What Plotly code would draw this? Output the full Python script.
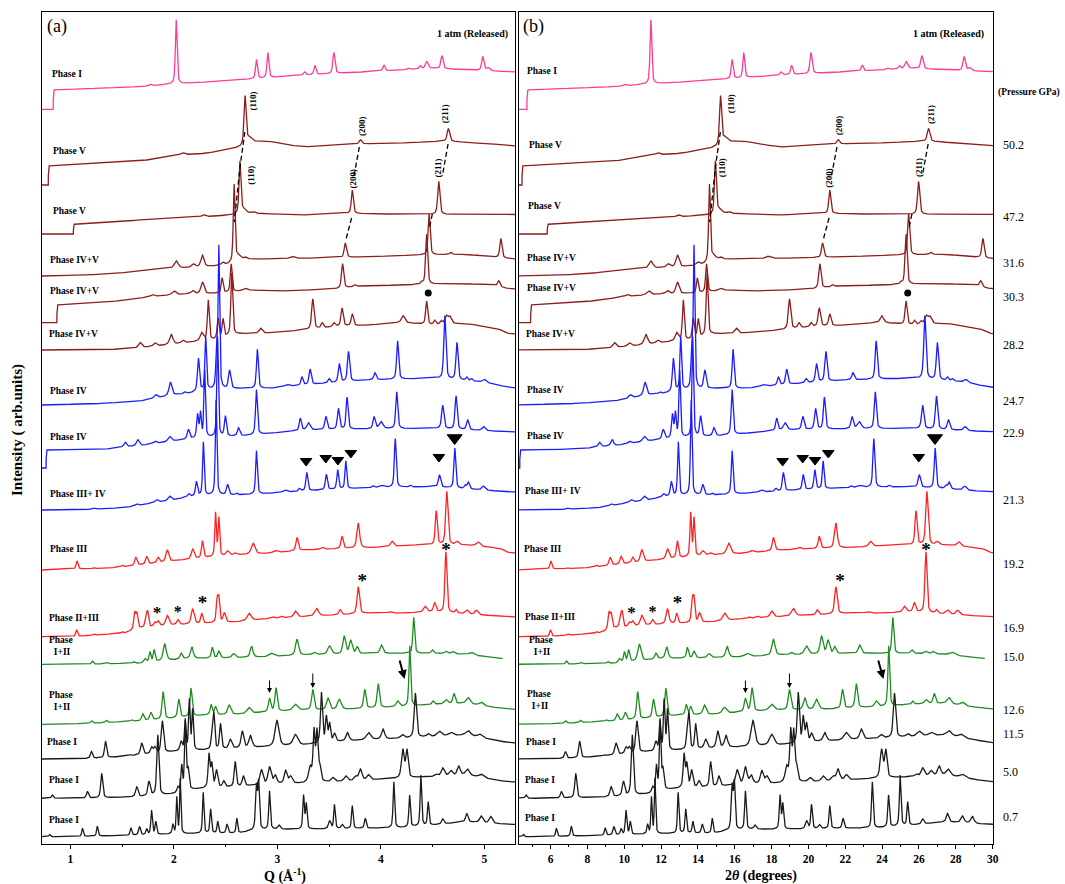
import numpy as np
import plotly.graph_objects as go

# X-ray wavelength (Angstrom) used to convert 2-theta into Q
WAVELENGTH = 0.6195

pressure_labels = ["", "50.2", "47.2", "31.6", "30.3", "28.2", "24.7", "22.9", "21.3",
                   "19.2", "16.9", "15.0", "12.6", "11.5", "5.0", "0.7"]
phase_labels = ["Phase I", "Phase V", "Phase V", "Phase IV+V", "Phase IV+V", "Phase IV+V",
                "Phase IV", "Phase IV", "Phase III+ IV", "Phase III", "Phase II+III",
                "Phase<br> I+II", "Phase<br> I+II", "Phase I", "Phase I", "Phase I"]
trace_colors = ["#ff3a96", "#8c1d1d", "#8c1d1d", "#8c1d1d", "#8c1d1d", "#8c1d1d",
                "#1c1cff", "#1c1cff", "#1c1cff", "#ff2222", "#ff2222",
                "#1f8c1f", "#1f8c1f", "#1a1a1a", "#1a1a1a", "#1a1a1a"]
trace_end = [30.35, 30.35, 30.35, 30.35, 30.35, 30.35, 30.35, 30.35, 30.35,
             30.35, 30.35, 29.58, 30.35, 30.35, 30.35, 30.35]

# ---- background (2theta deg, offset intensity) and peaks (2theta, height, fwhm) ----
base_00 = [(4.1, 734.7), (4.72, 734.7), (4.73, 754), (9.47, 757.3), (11.0, 759.7), (14.85, 764),
           (18.46, 769), (22.06, 772.3), (25.66, 775.7), (29.8, 772.3), (30.35, 772)]
peaks_00 = [(10.06, 1.5), (11.45, 64, 0.11), (15.86, 19, 0.12), (16.49, 25, 0.12), (18.52, 3),
            (19.09, 9), (20.14, 21, 0.14), (22.92, 6), (24.31, 1.5), (24.94, 3), (25.3, 7, 0.18),
            (26.16, 13, 0.15), (28.45, 14, 0.15), (28.75, 3, 0.2)]

base_01 = [(4.1, 659), (4.45, 659), (4.46, 678), (5.87, 679), (9.47, 683), (11.63, 689),
           (13.07, 690.7), (14.5, 695), (14.96, 697), (15.59, 702), (16.49, 703), (17.3, 700),
           (18.46, 697), (21.34, 700), (23.86, 701), (26.38, 703), (29.8, 699), (30.35, 698)]
peaks_01 = [(11.81, 2, 0.25), (15.23, 48, 0.13), (15.45, 5, 0.3), (21.61, 4.3, 0.15),
            (26.52, 12.7, 0.16)]

base_02 = [(4.1, 610), (5.82, 610), (5.83, 619.7), (9.47, 624), (13.07, 627.3), (14.5, 629),
           (15.5, 630.7), (18.46, 629), (21.0, 630.7), (23.86, 629.7), (29.8, 629.7), (30.35, 629.5)]
peaks_02 = [(12.94, 2, 0.25), (14.95, 52, 0.12), (15.15, 4, 0.3), (15.7, 1.5, 0.2),
            (21.16, 23.3, 0.13), (25.98, 33, 0.14)]

base_03 = [(4.1, 568), (7.67, 569.7), (10.37, 574.7), (13.07, 577.3), (14.15, 579), (15.23, 584.7),
           (18.46, 585.7), (22.06, 587.3), (24.76, 589), (27.46, 589.7), (29.8, 585.7), (30.35, 585)]
peaks_03 = [(11.45, 7.3, 0.25), (12.39, 3.3, 0.2), (12.89, 11.7, 0.2), (14.0, 3, 0.2),
            (14.63, 77, 0.11), (14.85, 5, 0.3), (15.23, 2, 0.2), (17.83, 2.3, 0.3),
            (20.77, 14.3, 0.14), (25.44, 41, 0.13), (26.65, 2.3), (29.47, 19.3, 0.14)]

base_04 = [(4.1, 521.3), (4.92, 521.3), (4.93, 539), (7.67, 541.7), (10.0, 547.3), (12.0, 550),
           (13.0, 550.3), (14.0, 551), (15.4, 554), (17.0, 553), (20.0, 554.7), (21.6, 558),
           (24.0, 559), (27.0, 560.7), (29.0, 559), (29.8, 555.7), (30.35, 555)]
peaks_04 = [(10.15, 2, 0.2), (11.32, 4, 0.25), (12.35, 3.3, 0.2), (12.89, 11.7, 0.2),
            (13.97, 15, 0.12), (14.47, 28, 0.12), (15.23, 2, 0.2), (20.62, 24.3, 0.14),
            (21.31, 2), (25.03, 2), (25.3, 50, 0.13), (29.35, 5.7, 0.15)]

base_05 = [(4.1, 494), (7.67, 494.3), (9.0, 495.7), (10.0, 497.3), (11.5, 500), (12.5, 502.3),
           (13.5, 504), (14.8, 510), (16.5, 511), (18.46, 514), (20.25, 517.3), (22.06, 519),
           (23.86, 521.7), (25.66, 519), (27.46, 520.7), (29.26, 515.7), (29.8, 510.7), (30.35, 510)]
peaks_05 = [(9.47, 5, 0.2), (10.28, 3.3, 0.2), (11.18, 10, 0.22), (11.81, 3, 0.2), (12.85, 8, 0.2),
            (13.21, 40, 0.12), (13.75, 20, 0.12), (14.02, 18, 0.12), (14.5, 62, 0.12),
            (16.09, 5, 0.2), (18.97, 30, 0.15), (19.49, 5, 0.15), (20.14, 4, 0.15),
            (20.59, 18.3, 0.15), (21.16, 11.7, 0.15), (23.99, 6.7, 0.2), (25.3, 23.3, 0.13),
            (25.75, 4.3, 0.15), (26.11, 3.3, 0.15), (26.4, 8, 0.2), (26.6, 7, 0.2)]

base_06 = [(4.1, 439), (7.67, 440.7), (9.47, 443), (11.27, 449), (12.17, 450.7), (13.07, 454),
           (15.23, 455.7), (16.67, 455.7), (18.46, 459), (22.06, 464), (25.66, 465.7), (28.5, 462),
           (29.8, 457), (30.35, 456)]
peaks_06 = [(10.33, 3.3, 0.2), (11.13, 13.3, 0.18), (11.94, 1.7), (12.67, 32.7, 0.13),
            (13.07, 52.7, 0.1), (13.66, 30, 0.1), (13.79, 142, 0.1), (14.38, 18.3, 0.15),
            (15.91, 39, 0.12), (17.53, 2, 0.3), (18.37, 8.3, 0.13), (18.82, 15.3, 0.14),
            (19.87, 4.3, 0.15), (20.44, 18.3, 0.14), (20.95, 30, 0.14), (22.42, 7, 0.15),
            (23.68, 38.3, 0.13), (26.32, 63.3, 0.14), (27.0, 37.3, 0.14), (27.55, 3.3),
            (27.82, 2.3), (28.54, 2.7, 0.2)]

base_07 = [(4.1, 376), (4.33, 376), (4.34, 394), (7.67, 395), (8.57, 397.3), (9.47, 398.3),
           (11.27, 403), (12.17, 405), (14.0, 407.3), (15.0, 408), (16.67, 410.7), (18.46, 414),
           (22.06, 415), (25.66, 415.7), (29.8, 412.3), (30.35, 412)]
peaks_07 = [(8.66, 4.3, 0.15), (9.35, 6, 0.18), (10.28, 2.3, 0.2), (11.09, 5, 0.2),
            (12.12, 9.3, 0.15), (12.62, 23, 0.12), (12.78, 24, 0.1), (13.01, 67, 0.1),
            (13.72, 100, 0.1), (14.15, 20, 0.13), (14.87, 8, 0.15), (15.86, 45, 0.12),
            (18.28, 12, 0.13), (18.73, 7, 0.2), (19.7, 13, 0.15), (20.39, 20.7, 0.14),
            (20.87, 32, 0.13), (22.37, 12, 0.15), (22.76, 7, 0.25), (23.63, 36.7, 0.13),
            (26.2, 23.3, 0.15), (26.95, 33.3, 0.14), (27.6, 10, 0.15), (28.5, 4, 0.2)]

base_08 = [(4.1, 334), (6.77, 334.7), (8.57, 336.3), (9.47, 339), (10.37, 341.7), (11.27, 344),
           (12.17, 347.3), (13.43, 349), (14.85, 349), (16.67, 350.7), (18.46, 353), (22.06, 356.3),
           (25.66, 357.3), (29.8, 352.3), (30.35, 352)]
peaks_08 = [(6.95, 1, 0.15), (9.29, 1.7, 0.15), (10.37, 2.7, 0.2), (11.09, 4.3, 0.2),
            (12.13, 3, 0.15), (12.56, 14.3, 0.13), (12.94, 53.3, 0.1), (13.64, 95, 0.1),
            (14.27, 10.3, 0.15), (14.78, 1.7), (15.86, 43.3, 0.11), (17.42, 2.3, 0.3),
            (18.23, 2.7), (18.64, 18.3, 0.13), (19.72, 15.3, 0.13), (20.35, 19.3, 0.12),
            (20.8, 27.7, 0.11), (22.33, 1.7), (22.78, 2, 0.3), (23.55, 48.7, 0.12), (24.4, 1.7),
            (26.02, 12.3, 0.15), (26.88, 40, 0.12), (27.46, 3.3), (27.64, 6.7, 0.15), (28.48, 4, 0.2)]

base_09 = [(4.1, 274), (5.87, 275), (7.67, 275.7), (9.47, 279), (11.27, 283), (13.07, 286.3),
           (14.85, 289), (16.67, 290.7), (18.46, 294), (22.06, 296.3), (24.76, 299), (27.46, 299),
           (29.44, 295.7), (29.8, 291.7), (30.35, 291)]
peaks_09 = [(6.02, 8, 0.12), (6.92, 1), (8.48, 1.5), (9.24, 8, 0.15), (9.83, 7.7, 0.15),
            (10.46, 5.3, 0.15), (10.96, 11.7, 0.18), (12.35, 10, 0.18), (12.89, 17, 0.13),
            (13.61, 43.3, 0.1), (13.79, 38, 0.1), (14.27, 4.7, 0.2), (14.69, 2, 0.2),
            (15.68, 11, 0.25), (16.9, 2.3, 0.3), (18.1, 13.3, 0.15), (19.5, 2, 0.2),
            (20.59, 12.3, 0.15), (21.49, 25, 0.18), (23.37, 5, 0.2), (25.84, 34, 0.13),
            (26.43, 53.3, 0.15), (27.0, 3.3, 0.2), (28.18, 4.3, 0.25)]

base_10 = [(4.1, 207.3), (5.87, 207.3), (7.67, 209.7), (8.57, 210.7), (9.47, 215.7), (11.27, 219),
           (13.07, 220.7), (14.85, 222.3), (16.67, 225.7), (18.46, 227.3), (20.26, 229),
           (22.06, 230.7), (23.86, 230.7), (25.66, 232.3), (29.8, 227.3), (30.35, 227)]
peaks_10 = [(6.0, 6.7, 0.12), (6.92, 1.5), (8.48, 1.7), (9.17, 16.7, 0.12), (9.29, 15, 0.12),
            (9.8, 13.3, 0.12), (9.89, 13, 0.1), (10.28, 4, 0.15), (10.46, 5, 0.15), (10.96, 10, 0.2),
            (11.54, 5, 0.15), (12.35, 15, 0.18), (12.85, 10, 0.13), (13.7, 23.3, 0.12),
            (13.79, 21, 0.1), (14.09, 9.3, 0.15), (15.46, 7.3, 0.25), (16.79, 1.3), (17.24, 1.7),
            (18.01, 6, 0.2), (19.18, 7.7, 0.25), (20.48, 5, 0.15), (21.49, 27, 0.16),
            (23.23, 1.5, 0.3), (25.21, 5.7, 0.2), (25.75, 9, 0.15), (26.38, 60.7, 0.13),
            (26.95, 3.3), (27.55, 4, 0.2), (28.09, 4.3, 0.2)]

base_11 = [(4.1, 179.7), (6.77, 179.7), (8.57, 180.7), (9.47, 180.7), (11.27, 184), (12.17, 185.7),
           (13.07, 185.7), (14.85, 186.3), (16.67, 187.3), (18.46, 189), (20.26, 189.7),
           (22.06, 190.7), (25.66, 190.7), (27.46, 189.7), (29.44, 185.7), (29.6, 185.5)]
peaks_11 = [(6.86, 3.3, 0.12), (7.67, 1.3), (9.11, 1.7), (9.74, 4, 0.15), (10.01, 10, 0.12),
            (10.24, 11.7, 0.12), (10.82, 16.7, 0.2), (11.72, 5.7, 0.15), (12.31, 11.3, 0.17),
            (13.43, 10.7, 0.13), (13.79, 6.7, 0.15), (14.6, 4, 0.2), (15.59, 11, 0.18),
            (16.67, 3.3, 0.3), (18.1, 16, 0.2), (19.06, 2.3, 0.2), (19.9, 8.3, 0.25),
            (20.71, 17.7, 0.18), (21.07, 13, 0.18), (21.43, 6.7, 0.15), (22.78, 8.3, 0.18),
            (24.58, 36, 0.12), (25.62, 3.3, 0.15), (26.38, 2.3, 0.2), (26.77, 2.3, 0.2),
            (27.82, 2.7, 0.3)]

base_12 = [(4.1, 119.7), (6.77, 120.7), (9.47, 123), (11.27, 125.7), (13.07, 129), (14.85, 129.7),
           (16.67, 132.3), (18.46, 134), (20.26, 134), (22.06, 135.7), (23.86, 137.3),
           (25.66, 139.7), (27.46, 140.7), (29.8, 135), (30.35, 134.5)]
peaks_12 = [(6.81, 2.7, 0.12), (7.62, 2.3, 0.12), (9.02, 1.5), (9.62, 6.7, 0.15), (10.06, 7.7, 0.15),
            (10.73, 27.3, 0.14), (11.59, 18.3, 0.14), (12.26, 28.3, 0.14), (13.37, 10, 0.13),
            (13.61, 8, 0.13), (14.36, 9.3, 0.2), (15.44, 6, 0.25), (16.58, 13, 0.15),
            (16.94, 23.3, 0.15), (18.01, 6, 0.3), (18.97, 20.3, 0.16), (19.81, 11.7, 0.2),
            (20.44, 10.3, 0.25), (21.85, 19, 0.15), (22.6, 24, 0.15), (23.68, 5.7, 0.2),
            (24.36, 60, 0.11), (25.66, 3.3), (26.38, 4.3, 0.2), (26.83, 10, 0.15),
            (27.64, 6, 0.25), (28.36, 3.3, 0.25)]

base_13 = [(4.1, 85), (5.87, 85), (7.67, 86.3), (9.47, 89), (11.27, 92.3), (13.07, 94),
           (14.85, 95.7), (16.67, 97.3), (18.46, 99), (20.26, 102.3), (22.06, 104), (23.86, 105.7),
           (25.66, 107.3), (27.46, 109), (29.8, 101.7), (30.35, 101)]
peaks_13 = [(6.81, 6.7, 0.13), (7.58, 16.7, 0.13), (8.93, 1), (9.56, 11.7, 0.16), (10.1, 6, 0.15),
            (10.28, 6, 0.15), (10.69, 31.7, 0.15), (11.72, 9, 0.15), (11.94, 29, 0.1),
            (12.17, 50, 0.1), (12.35, 40, 0.1), (13.43, 20, 0.12), (13.52, 31.7, 0.1),
            (13.88, 25, 0.12), (14.42, 9.3, 0.18), (15.08, 16.7, 0.17), (15.53, 11.7, 0.2),
            (16.99, 25.7, 0.25), (18.01, 10.7, 0.3), (19.45, 50, 0.13), (19.72, 25, 0.12),
            (19.9, 18, 0.12), (20.17, 8, 0.15), (20.89, 8.3, 0.2), (22.06, 7.3, 0.3),
            (22.87, 10, 0.2), (23.95, 3.3, 0.2), (24.67, 44.3, 0.15), (25.39, 3, 0.2),
            (26.02, 5, 0.3), (26.65, 3.3, 0.3), (27.64, 4.7, 0.3), (28.27, 3.3, 0.3)]

base_14 = [(4.1, 45.7), (5.87, 45.7), (7.67, 46.3), (9.47, 47.3), (11.27, 50), (12.17, 54),
           (13.07, 55.7), (14.85, 57.3), (16.67, 59.7), (18.46, 60.7), (20.26, 62.3), (22.06, 64),
           (23.86, 65.7), (25.66, 67.3), (27.46, 69), (29.8, 62.3), (30.35, 62)]
peaks_14 = [(4.67, 3.3, 0.12), (6.59, 6.7, 0.13), (7.37, 24.3, 0.13), (9.29, 10, 0.15),
            (9.96, 14.3, 0.15), (10.44, 60, 0.13), (11.54, 5, 0.12), (11.75, 25, 0.1),
            (11.95, 70, 0.1), (12.1, 20, 0.12), (13.25, 33, 0.12), (13.4, 23, 0.12),
            (13.66, 17, 0.15), (14.06, 6, 0.15), (14.69, 25, 0.13), (15.14, 10, 0.15),
            (16.13, 15, 0.2), (16.58, 17, 0.2), (16.9, 8, 0.2), (17.47, 12.7, 0.18),
            (17.74, 7, 0.2), (18.82, 15, 0.2), (19.04, 50, 0.13), (19.2, 48, 0.12),
            (19.35, 15, 0.15), (20.08, 4, 0.2), (20.8, 5, 0.2), (21.34, 4, 0.2), (21.61, 11, 0.2),
            (22.06, 5, 0.2), (23.97, 28, 0.18), (24.2, 27, 0.15), (25.84, 2, 0.2), (26.2, 8, 0.2),
            (26.65, 5, 0.2), (27.1, 9, 0.2), (27.6, 6, 0.25), (28.36, 3.3, 0.3)]

base_15 = [(4.1, 7.3), (5.87, 7.3), (9.47, 9), (11.27, 10), (13.07, 10.7), (14.85, 10.7),
           (15.5, 13), (16.67, 14.7), (18.46, 14.7), (22.06, 15.7), (23.86, 16.3), (25.66, 19),
           (27.46, 22.3), (29.8, 19.7), (30.35, 19.5)]
peaks_15 = [(4.53, 2.3, 0.1), (6.32, 8.3, 0.1), (7.13, 10, 0.1), (8.97, 7.3, 0.1), (9.44, 8.3, 0.12),
            (9.83, 5.7, 0.1), (10.1, 24, 0.1), (10.33, 12.7, 0.1), (11.27, 9.3, 0.1),
            (11.48, 36, 0.08), (11.67, 55, 0.08), (12.93, 40.7, 0.09), (13.34, 24, 0.1),
            (13.73, 11.7, 0.1), (14.24, 9, 0.12), (14.78, 15, 0.1), (15.86, 43.3, 0.12),
            (15.98, 45, 0.1), (16.58, 38.3, 0.1), (17.1, 4, 0.15), (18.46, 33.3, 0.1),
            (18.61, 25, 0.1), (19.9, 8, 0.15), (20.17, 24, 0.1), (20.6, 4, 0.15), (21.16, 22.7, 0.1),
            (21.88, 10, 0.12), (23.47, 46, 0.1), (24.35, 31.7, 0.1), (24.98, 50.7, 0.1),
            (25.39, 23.3, 0.1), (26.2, 5, 0.15), (27.55, 8.3, 0.15), (28.36, 6.7, 0.2),
            (28.9, 6.7, 0.2)]

bases = [base_00, base_01, base_02, base_03, base_04, base_05, base_06, base_07,
         base_08, base_09, base_10, base_11, base_12, base_13, base_14, base_15]
peak_lists = [peaks_00, peaks_01, peaks_02, peaks_03, peaks_04, peaks_05, peaks_06, peaks_07,
              peaks_08, peaks_09, peaks_10, peaks_11, peaks_12, peaks_13, peaks_14, peaks_15]

# marker annotations (2theta, intensity offset)
triangle_tt = [18.6, 19.69, 20.36, 21.08, 25.99, 26.87]
triangle_y = [383, 386, 384, 391, 387, 406]
triangle_size = [10, 10, 10, 10, 10, 13]
star_tt = [10.40, 11.54, 12.89, 21.71, 26.38]
star_y = [235.7, 235.7, 245, 266.3, 297.3]
star_size = [17, 16, 19, 19, 19]
dot_tt = [25.39]
dot_y = [551]
# hkl guide lines (2theta, y)
guide_lines = [
    [(15.22, 712), (14.96, 678), (14.64, 622)],
    [(21.55, 697), (21.25, 668)],
    [(21.12, 626), (20.8, 604)],
    [(26.5, 700), (26.18, 668)],
    [(25.62, 630), (25.47, 617)],
]
# arrows: (2theta tip, y tip, 2theta tail, y tail, width)
arrows = [(16.58, 151, 16.58, 165, 1.0), (18.97, 156, 18.97, 172, 1.0),
          (24.07, 165, 23.77, 185, 2.0)]

FONT = "Liberation Serif"
L, R, T, B = 42, 993, 12, 844
W_PX, H_PX = R - L, B - T
Y_MAX = H_PX


def to_q(tt):
    return 4 * np.pi * np.sin(np.radians(np.asarray(tt, dtype=float) / 2)) / WAVELENGTH


def profile(tt, base, peaks):
    bx = [b[0] for b in base]
    by = [b[1] for b in base]
    y = np.interp(tt, bx, by)
    for p in peaks:
        x0, h = p[0], p[1]
        w = p[2] if len(p) > 2 else 0.13
        d = (tt - x0) / w
        y = y + h * (0.55 / (1 + 4 * d * d) + 0.45 * np.exp(-4 * np.log(2) * d * d))
    return y


fig = go.Figure()

for i in range(len(bases)):
    tt = np.arange(4.1, trace_end[i], 0.005)
    yy = profile(tt, bases[i], peak_lists[i])
    line = dict(color=trace_colors[i], width=1.3)
    fig.add_trace(go.Scatter(x=np.round(to_q(tt), 4), y=np.round(yy, 2), mode="lines", line=line,
                             xaxis="x", yaxis="y", hoverinfo="skip", showlegend=False))
    fig.add_trace(go.Scatter(x=np.round(tt, 4), y=np.round(yy, 2), mode="lines", line=line,
                             xaxis="x2", yaxis="y2", hoverinfo="skip", showlegend=False))

for gl in guide_lines:
    gx = [p[0] for p in gl]
    gy = [p[1] for p in gl]
    for xa, ya, xv in (("x", "y", to_q(gx)), ("x2", "y2", gx)):
        fig.add_trace(go.Scatter(x=xv, y=gy, mode="lines", xaxis=xa, yaxis=ya,
                                 line=dict(color="black", width=1.3, dash="5px,3px"),
                                 hoverinfo="skip", showlegend=False))

for xa, ya, conv in (("x", "y", to_q), ("x2", "y2", lambda v: np.asarray(v, dtype=float))):
    fig.add_trace(go.Scatter(x=conv(triangle_tt), y=triangle_y, mode="markers", xaxis=xa, yaxis=ya,
                             marker=dict(symbol="triangle-down", size=triangle_size, color="#000000",
                                         opacity=1, line=dict(color="#000000", width=1)),
                             hoverinfo="skip", showlegend=False))
    fig.add_trace(go.Scatter(x=conv(dot_tt), y=dot_y, mode="markers", xaxis=xa, yaxis=ya,
                             marker=dict(symbol="circle", size=7, color="#000000"),
                             hoverinfo="skip", showlegend=False))
    fig.add_trace(go.Scatter(x=conv(star_tt), y=[v - 5 for v in star_y], mode="text",
                             text=["*"] * len(star_tt), xaxis=xa, yaxis=ya,
                             textfont=dict(family=FONT, size=star_size, color="black", weight="bold"),
                             hoverinfo="skip", showlegend=False))

annotations = []


def pa(px, py, text, size, bold=True, xanchor="left", angle=0, align="left"):
    annotations.append(dict(x=(px - L) / W_PX, y=(B - py) / H_PX, xref="paper", yref="paper",
                            text=text, showarrow=False, xanchor=xanchor, yanchor="middle",
                            textangle=angle, align=align,
                            font=dict(family=FONT, size=size, color="black",
                                      weight="bold" if bold else "normal")))


# phase labels (pixel positions of the text)
phase_pos_a = [(50, 74), (50.7, 151), (50.7, 211), (48.3, 260), (48.3, 291), (46.7, 334.3),
               (48.3, 390.7), (48.3, 436.7), (48.3, 494), (48.3, 549.3), (46.7, 617.7),
               (46.7, 646), (47.3, 700.5), (45, 742.3), (46.7, 780), (46.7, 820)]
phase_pos_b = [(525, 70.7), (526.7, 145), (526, 206), (525, 257.7), (525, 287.7), (524.3, 334.3),
               (525, 390), (525, 435.7), (523.3, 491), (521.7, 549), (523.3, 617.3),
               (526.7, 646.3), (525, 700), (524.3, 742.3), (523.3, 780), (523.3, 818.3)]
for lbl, pos_a, pos_b in zip(phase_labels, phase_pos_a, phase_pos_b):
    pa(pos_a[0], pos_a[1], lbl, 9.5, align="center")
    pa(pos_b[0], pos_b[1], lbl, 9.5, align="center")

# pressure labels at the right
pressure_py = [None, 145.3, 217.3, 262.6, 297, 345, 401, 433, 500, 563.7, 627.7, 657,
               710, 734, 771.6, 817]
for lbl, py in zip(pressure_labels, pressure_py):
    if lbl:
        pa(1001, py, lbl, 12, bold=False)
pa(996, 92, "(Pressure GPa)", 9.5)

# panel tags and header
pa(45, 27, "(a)", 18, bold=False)
pa(521, 27, "(b)", 18, bold=False)
pa(510, 34, "1 atm (Released)", 10, xanchor="right")
pa(986, 34, "1 atm (Released)", 10, xanchor="right")

# hkl labels
hkl_a = [(253.3, 101.3, "(110)"), (362.7, 126.3, "(200)"), (445, 114.3, "(211)"),
         (250.7, 175, "(110)"), (353.3, 178.3, "(200)"), (438.3, 168.3, "(211)")]
hkl_b = [(731, 104.2, "(110)"), (839, 125.3, "(200)"), (931, 115, "(211)"),
         (722.3, 168, "(110)"), (829, 177.7, "(200)"), (919, 168, "(211)")]
for px, py, t in hkl_a + hkl_b:
    pa(px, py, t, 9, xanchor="center", angle=-90)

# axis titles
pa(285, 875, "Q (Å<sup>-1</sup>)", 14, xanchor="center")
pa(761, 876, "2<i>θ</i> (degrees)", 14, xanchor="center")
pa(17, 430, "Intensity ( arb.units)", 15, xanchor="center", angle=-90)

# arrows (data coordinates in each panel)
for tip_t, tip_y, tail_t, tail_y, w in arrows:
    for xa, ya, conv in (("x", "y", lambda v: float(to_q(v))), ("x2", "y2", lambda v: v)):
        annotations.append(dict(x=conv(tip_t), y=tip_y, ax=conv(tail_t), ay=tail_y,
                                xref=xa, yref=ya, axref=xa, ayref=ya, text="",
                                showarrow=True, arrowhead=2, arrowsize=1.0 if w < 1.5 else 0.9,
                                arrowwidth=w, arrowcolor="black"))

split_a = (515 - L) / W_PX
split_b = (519 - L) / W_PX
axis_common = dict(showline=True, linecolor="black", linewidth=1, mirror=True, showgrid=False,
                   zeroline=False, ticks="outside", ticklen=4, tickcolor="black",
                   tickfont=dict(family=FONT, size=11.5, color="black", weight="bold"))

fig.update_layout(
    width=1065, height=884,
    margin=dict(l=L, r=1065 - R, t=T, b=884 - B),
    paper_bgcolor="white", plot_bgcolor="white",
    showlegend=False, hovermode=False,
    xaxis=dict(domain=[0, split_a], range=[0.727, 5.296], tick0=0, dtick=1,
               minor=dict(dtick=0.5, ticklen=2, ticks="outside", tickcolor="black"), **axis_common),
    xaxis2=dict(domain=[split_b, 1], range=[4.29, 30.02], tick0=0, dtick=2,
                minor=dict(dtick=1, ticklen=2, ticks="outside", tickcolor="black"), **axis_common),
    yaxis=dict(domain=[0, 1], range=[0, Y_MAX], anchor="x", showline=True, linecolor="black",
               linewidth=1, mirror=True, showticklabels=False, ticks="", showgrid=False, zeroline=False),
    yaxis2=dict(domain=[0, 1], range=[0, Y_MAX], anchor="x2", showline=True, linecolor="black",
                linewidth=1, mirror=True, showticklabels=False, ticks="", showgrid=False, zeroline=False),
    annotations=annotations,
)

fig.write_html("out.html")
